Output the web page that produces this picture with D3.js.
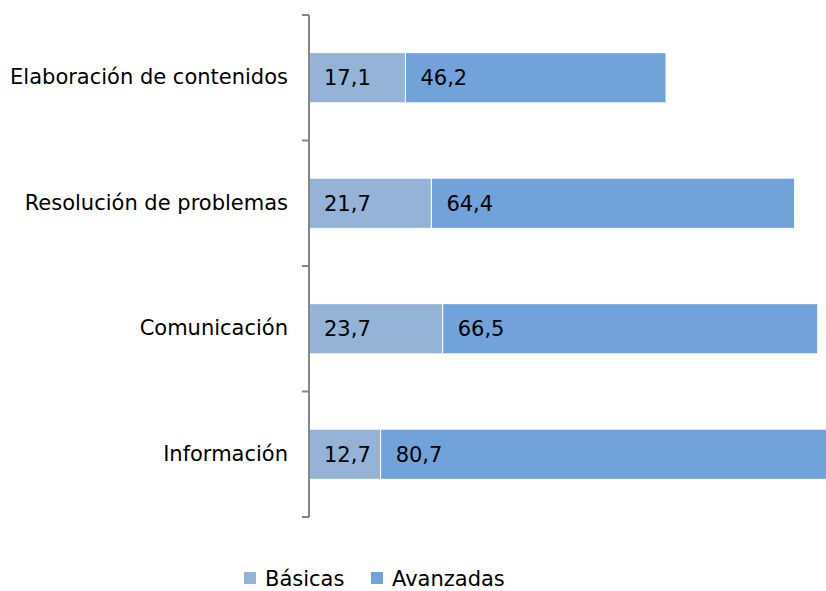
<!DOCTYPE html>
<html>
<head>
<meta charset="utf-8">
<script src="https://cdn.jsdelivr.net/npm/d3@7"></script>
<style>
  body { margin: 0; background: #fff; overflow: hidden; }
  svg { display: block; font-family: "DejaVu Sans", sans-serif; }
</style>
</head>
<body>
<div id="chart"></div>
<script>
"use strict";

// data, top to bottom
const categories = ["Elaboración de contenidos", "Resolución de problemas", "Comunicación", "Información"];
const basicas = [17.1, 21.7, 23.7, 12.7];
const avanzadas = [46.2, 64.4, 66.5, 80.7];
const seriesNames = ["Básicas", "Avanzadas"];
const colors = ["#95b3d7", "#71a3da"];

const width = 826, height = 591;
const margin = { top: 15, left: 309, bottom: 74 };
const fontSize = 21;

const svg = d3.select("#chart")
    .append("svg")
    .attr("width", width)
    .attr("height", height);

// the axis runs on past the right edge, so the longest bar is cut off
const x = d3.scaleLinear()
    .domain([0, 100])
    .range([margin.left, margin.left + 564]);

const y = d3.scaleBand()
    .domain(categories)
    .range([margin.top, height - margin.bottom])
    .paddingInner(0.6)
    .paddingOuter(0.3);

const rows = categories.map((c, i) => ({ cat: c, vals: [basicas[i], avanzadas[i]] }));
const stack = d3.stack().keys([0, 1]).value((d, k) => d.vals[k]);
const layers = stack(rows);

const groups = svg.selectAll("g.layer")
    .data(layers)
    .join("g")
    .attr("class", "layer")
    .attr("fill", (d, i) => colors[i]);

groups.selectAll("rect")
    .data(d => d)
    .join("rect")
    .attr("x", d => x(d[0]))
    .attr("y", d => y(d.data.cat))
    .attr("width", d => x(d[1]) - x(d[0]))
    .attr("height", y.bandwidth())
    .attr("stroke", "#fff")
    .attr("stroke-width", 1);

// value labels, near the left edge of each segment
groups.selectAll("text")
    .data((d, i) => d.map(s => ({ s, v: s.data.vals[i] })))
    .join("text")
    .attr("x", d => x(d.s[0]) + 15)
    .attr("y", d => y(d.s.data.cat) + y.bandwidth() / 2)
    .attr("dy", "0.36em")
    .attr("fill", "#000")
    .attr("font-size", fontSize)
    .text(d => d3.format(".1f")(d.v).replace(".", ","));

// category axis
const yAxis = d3.axisLeft(y).tickSize(0).tickPadding(21);
const ax = svg.append("g")
    .attr("transform", `translate(${margin.left},0)`)
    .call(yAxis);
ax.select(".domain").remove();
ax.selectAll("text")
    .attr("font-family", "DejaVu Sans, sans-serif")
    .attr("font-size", fontSize)
    .attr("fill", "#000");

// axis line and ticks between categories
const bounds = d3.range(categories.length + 1).map(i => margin.top + i * (height - margin.bottom - margin.top) / categories.length);
svg.append("line")
    .attr("x1", margin.left).attr("x2", margin.left)
    .attr("y1", bounds[0]).attr("y2", bounds[bounds.length - 1])
    .attr("stroke", "#868686").attr("stroke-width", 2);
svg.selectAll("line.tick")
    .data(bounds)
    .join("line")
    .attr("class", "tick")
    .attr("x1", margin.left - 7).attr("x2", margin.left)
    .attr("y1", d => d).attr("y2", d => d)
    .attr("stroke", "#868686").attr("stroke-width", 2);

// legend
const legend = svg.append("g").attr("transform", "translate(244,572)");
const legX = [0, 127];
seriesNames.forEach((n, i) => {
    legend.append("rect")
        .attr("x", legX[i]).attr("y", 0)
        .attr("width", 12).attr("height", 12)
        .attr("fill", colors[i]);
    legend.append("text")
        .attr("x", legX[i] + 21).attr("y", 6)
        .attr("dy", "0.36em")
        .attr("font-size", fontSize)
        .attr("fill", "#000")
        .text(n);
});
</script>
</body>
</html>
